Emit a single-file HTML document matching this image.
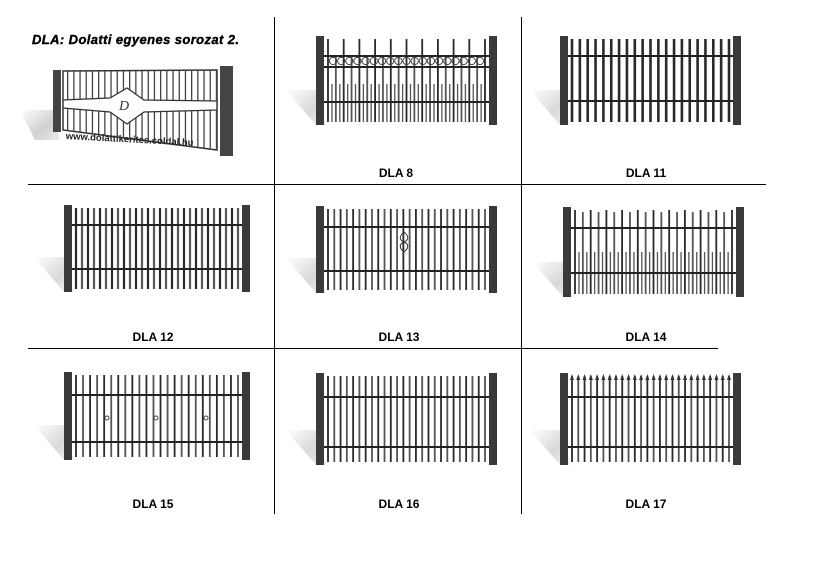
<!DOCTYPE html>
<html><head><meta charset="utf-8"><style>
html,body{margin:0;padding:0;background:#fff;width:824px;height:576px;overflow:hidden}
svg{position:absolute;left:0;top:0}
.lbl{position:absolute;font:bold 12px "Liberation Sans",sans-serif;color:#000;transform:translateX(-50%)}
.title{position:absolute;left:32px;top:32px;font:italic 900 13px "Liberation Sans",sans-serif;letter-spacing:0.4px;-webkit-text-stroke:0.4px #000}
.url{position:absolute;left:66px;top:131px;font:bold 9.5px "Liberation Sans",sans-serif;transform:rotate(3deg);transform-origin:left top;color:#222}
</style></head><body>
<svg id="s" width="824" height="576" xmlns="http://www.w3.org/2000/svg">
<defs>
<linearGradient id="sh" x1="0" y1="0" x2="1" y2="1"><stop offset="0" stop-color="#fff"/><stop offset="0.6" stop-color="#cfcfcf"/><stop offset="1" stop-color="#eee"/></linearGradient>
</defs>
<g stroke="#000" stroke-width="1">
<line x1="274.5" y1="17" x2="274.5" y2="514"/>
<line x1="521.5" y1="17" x2="521.5" y2="514"/>
<line x1="28" y1="184.5" x2="766" y2="184.5"/>
<line x1="28" y1="348.5" x2="718" y2="348.5"/>
</g>
<g id="f"></g>
</svg>
<div class="title">DLA: Dolatti egyenes sorozat 2.</div>
<div class="url">www.dolattikerites.coldal.hu</div>
<div class="lbl" style="left:396px;top:166px">DLA 8</div>
<div class="lbl" style="left:646px;top:166px">DLA 11</div>
<div class="lbl" style="left:153px;top:330px">DLA 12</div>
<div class="lbl" style="left:399px;top:330px">DLA 13</div>
<div class="lbl" style="left:646px;top:330px">DLA 14</div>
<div class="lbl" style="left:153px;top:497px">DLA 15</div>
<div class="lbl" style="left:399px;top:497px">DLA 16</div>
<div class="lbl" style="left:646px;top:497px">DLA 17</div>
<script>
var g=document.getElementById('f'),o='';
function r(x,y,w,h,c){o+='<rect x="'+x+'" y="'+y+'" width="'+w+'" height="'+h+'" fill="'+c+'"/>';}
function fence(x1,x2,yt,yb,n,rails,opt){
  opt=opt||{};
  var bw=opt.bw||1.6;
  o+='<polygon points="'+(x1-30)+','+(yb-35)+' '+x1+','+(yb-35)+' '+(x1+10)+','+yb+' '+x1+','+yb+'" fill="url(#sh)" opacity="0.8"/>';
  var a=x1+8,b=x2,w=b-a,st=(w-8)/(n-1);
  for(var i=0;i<n;i++){
    var x=a+4+i*st;
    var top=yt+3;
    if(opt.alt&&i%2==1) top=yt+(opt.alt);
    r(x-bw/2,top,bw,yb-top-3,(opt.dark?'#2a2a2a':(i%2?'#555':'#2a2a2a')));
    if(opt.spear){o+='<polygon points="'+(x-2)+','+(top+4)+' '+x+','+(top-2)+' '+(x+2)+','+(top+4)+'" fill="#333"/>';}
  }
  if(opt.short){for(var j=0;j<n-1;j++){var xx=a+4+(j+0.5)*st;r(xx-0.6,opt.short,1.3,yb-opt.short-3,'#555');}}
  rails.forEach(function(y){r(a,y,w,2,'#222');});
  if(opt.rings){for(var k=0;k<19;k++){var cx=a+9+k*(w-18)/18;o+='<circle cx="'+cx+'" cy="'+(opt.rings)+'" r="3.6" fill="none" stroke="#444" stroke-width="1"/>';}}
  if(opt.knobs){opt.knobs.forEach(function(p){o+='<circle cx="'+p[0]+'" cy="'+p[1]+'" r="2" fill="none" stroke="#444"/>';});}
  if(opt.scroll){o+='<path d="M'+opt.scroll[0]+','+opt.scroll[1]+' c-5,4 -5,8 0,10 c5,2 5,6 0,10 M'+opt.scroll[0]+','+opt.scroll[1]+' c5,4 5,8 0,10 c-5,2 -5,6 0,10" fill="none" stroke="#333"/>';}
  r(x1,yt,8,yb-yt,'#3a3a3a');r(x2,yt,8,yb-yt,'#3a3a3a');
}
fence(316,489,36,125,21,[55,66,101],{alt:20,short:84,rings:61,bw:1.8});
fence(560,733,36,125,21,[55,100],{bw:2.6,dark:1});
fence(64,242,205,292,28,[224,268],{bw:2.2});
fence(316,489,206,293,26,[226,270],{scroll:[404,232],bw:1.8});
fence(563,736,207,297,21,[227,272],{alt:5,short:252,bw:1.8});
fence(64,242,372,460,24,[394,441],{knobs:[[107,418],[156,418],[206,418]],bw:1.8});
fence(316,489,373,465,26,[396,446],{bw:1.8});
fence(560,733,373,465,26,[396,446],{spear:1,bw:1.8});
// gate
o+='<polygon points="20,110 53,110 60,140 35,140" fill="url(#sh)"/>';
r(53,70,8,62,'#444');r(220,66,13,90,'#444');
o+='<g fill="none" stroke="#333" stroke-width="1.5"><polygon points="63,71 217,70 217,150 63,130"/></g>';
for(var i=0;i<25;i++){var x=67+i*6.2;r(x,71,1.3,60+i*0.8,'#444');}
o+='<path d="M63,100 L110,98 L127,88 L144,100 L217,101 L217,110 L144,112 L127,124 L110,112 L63,108 Z" fill="#fff" stroke="#333" stroke-width="1.3"/>';
o+='<text x="119" y="110" font-family="Liberation Serif" font-style="italic" font-size="14" fill="#333">D</text>';
g.innerHTML=o;
</script>
</body></html>
